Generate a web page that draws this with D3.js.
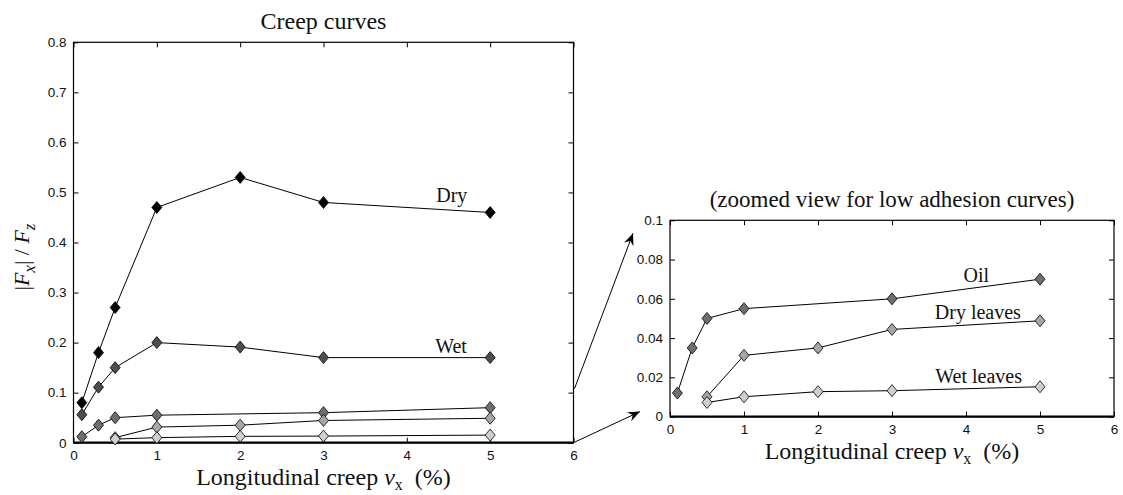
<!DOCTYPE html>
<html>
<head>
<meta charset="utf-8">
<script src="https://cdn.jsdelivr.net/npm/d3@7"></script>
<style>
  body { margin: 0; background: #fff; }
  svg { display: block; }
  .tick text { font-family: "Liberation Sans", Arial, sans-serif; font-size: 13.5px; fill: #111; }
  .serif { font-family: "Liberation Serif", "Times New Roman", serif; fill: #111; }
</style>
</head>
<body>
<div id="viz"></div>
<script>
// series: creep (%) and |Fx|/Fz
const dryX = [0.1, 0.3, 0.5, 1, 2, 3, 5];
const dryY = [0.08, 0.18, 0.27, 0.47, 0.53, 0.48, 0.46];
const wetX = [0.1, 0.3, 0.5, 1, 2, 3, 5];
const wetY = [0.056, 0.111, 0.15, 0.2, 0.191, 0.17, 0.17];
const oilX = [0.1, 0.3, 0.5, 1, 3, 5];
const oilY = [0.012, 0.035, 0.05, 0.055, 0.06, 0.07];
const dryLeavesX = [0.5, 1, 2, 3, 5];
const dryLeavesY = [0.0101, 0.0312, 0.035, 0.0444, 0.0488];
const wetLeavesX = [0.5, 1, 2, 3, 5];
const wetLeavesY = [0.0072, 0.0101, 0.0127, 0.0132, 0.0152];

const seriesNames = ['Dry', 'Wet', 'Oil', 'Dry leaves', 'Wet leaves'];
const xTicksVals = [0, 1, 2, 3, 4, 5, 6];
const leftYTicks = [0, 0.1, 0.2, 0.3, 0.4, 0.5, 0.6, 0.7, 0.8];
const rightYTicks = [0, 0.02, 0.04, 0.06, 0.08, 0.1];

const fills = { 'Dry': '#000', 'Wet': '#4d4d4d', 'Oil': '#6e6e6e', 'Dry leaves': '#a6a6a6', 'Wet leaves': '#cfcfcf' };

const series = [
  { name: 'Dry', x: dryX, y: dryY },
  { name: 'Wet', x: wetX, y: wetY },
  { name: 'Oil', x: oilX, y: oilY },
  { name: 'Dry leaves', x: dryLeavesX, y: dryLeavesY },
  { name: 'Wet leaves', x: wetLeavesX, y: wetLeavesY }
].map(s => ({ name: s.name, pts: s.x.map((v, i) => [v, s.y[i]]) }));

const W = 1123, H = 495;
const svg = d3.select('#viz').append('svg').attr('width', W).attr('height', H);

// arrow head marker
svg.append('defs').append('marker')
   .attr('id', 'head')
   .attr('viewBox', '-12 -6 14 12')
   .attr('markerWidth', 14).attr('markerHeight', 12)
   .attr('markerUnits', 'userSpaceOnUse')
   .attr('refX', 0).attr('refY', 0)
   .attr('orient', 'auto')
   .append('path').attr('d', 'M0,0 L-12,-5 L-8,0 L-12,5 Z').attr('fill', '#000');

function panel(box, yMax, yTicks, yFmt, list, labels, title, titleSize) {
  const x = d3.scaleLinear().domain([0, 6]).range([box.left, box.right]);
  const y = d3.scaleLinear().domain([0, yMax]).range([box.bottom, box.top]);
  const g = svg.append('g');

  // axes, matlab style: ticks inside on all four sides
  g.append('g').attr('transform', `translate(0,${box.bottom})`)
   .call(d3.axisBottom(x).tickValues(xTicksVals).tickSize(-5).tickPadding(8).tickFormat(d3.format('d')))
   .call(a => a.select('.domain').remove());
  g.append('g').attr('transform', `translate(0,${box.top})`)
   .call(d3.axisTop(x).tickValues(xTicksVals).tickSize(-5).tickFormat(''))
   .call(a => a.select('.domain').remove());
  g.append('g').attr('transform', `translate(${box.left},0)`)
   .call(d3.axisLeft(y).tickValues(yTicks).tickSize(-5).tickPadding(7).tickFormat(yFmt))
   .call(a => a.select('.domain').remove());
  g.append('g').attr('transform', `translate(${box.right},0)`)
   .call(d3.axisRight(y).tickValues(yTicks).tickSize(-5).tickFormat(''))
   .call(a => a.select('.domain').remove());
  g.selectAll('.tick line').attr('stroke', '#000');

  g.append('rect')
   .attr('x', box.left).attr('y', box.top)
   .attr('width', box.right - box.left).attr('height', box.bottom - box.top)
   .attr('fill', 'none').attr('stroke', '#000').attr('stroke-width', 1.2);
  g.append('line')
   .attr('x1', box.left).attr('x2', box.right)
   .attr('y1', box.bottom).attr('y2', box.bottom)
   .attr('stroke', '#000').attr('stroke-width', 2.2);

  const line = d3.line().x(d => x(d[0])).y(d => y(d[1]));
  const sg = g.selectAll('.series').data(list).enter().append('g');
  sg.append('path').attr('d', d => line(d.pts))
    .attr('fill', 'none').attr('stroke', '#000').attr('stroke-width', 1);
  sg.selectAll('path.mk').data(d => d.pts.map(p => ({ p, name: d.name })))
    .enter().append('path').classed('mk', true)
    .attr('d', 'M0,-6 L5,0 L0,6 L-5,0 Z')
    .attr('transform', d => `translate(${x(d.p[0])},${y(d.p[1])})`)
    .attr('fill', d => fills[d.name])
    .attr('stroke', '#000').attr('stroke-width', 0.8);

  labels.forEach(l => {
    g.append('text').attr('class', 'serif')
     .attr('x', x(l.x)).attr('y', y(l.y))
     .attr('text-anchor', 'middle').attr('font-size', 20)
     .text(l.text);
  });

  g.append('text').attr('class', 'serif')
   .attr('x', (box.left + box.right) / 2).attr('y', box.top - 13)
   .attr('text-anchor', 'middle').attr('font-size', titleSize)
   .text(title);

  const xl = g.append('text').attr('class', 'serif')
   .attr('x', (box.left + box.right) / 2).attr('y', box.bottom + 42)
   .attr('text-anchor', 'middle').attr('font-size', 24);
  xl.append('tspan').text('Longitudinal creep ');
  xl.append('tspan').attr('font-style', 'italic').text('ν');
  xl.append('tspan').attr('dy', 5).attr('font-size', 16).text('x');
  xl.append('tspan').attr('dy', -5).text('\u00a0 (%)');

  return { x, y };
}

const L = panel({ left: 73.5, right: 573.5, top: 42.3, bottom: 442.7 }, 0.8, leftYTicks,
  d => d === 0 ? '0' : d3.format('.1f')(d), series,
  [{ text: 'Dry', x: 4.54, y: 0.481 }, { text: 'Wet', x: 4.53, y: 0.179 }],
  'Creep curves', 24);

const R = panel({ left: 670, right: 1114, top: 220.3, bottom: 416.6 }, 0.1, rightYTicks,
  d => d === 0 ? '0' : (d === 0.1 ? '0.1' : d3.format('.2f')(d)), series.slice(2),
  [{ text: 'Oil', x: 4.14, y: 0.0687 }, { text: 'Dry leaves', x: 4.16, y: 0.0497 }, { text: 'Wet leaves', x: 4.17, y: 0.0171 }],
  '(zoomed view for low adhesion curves)', 23);

// y label of left panel
const yl = svg.append('text').attr('class', 'serif')
  .attr('transform', 'translate(29,257) rotate(-90)')
  .attr('text-anchor', 'middle').attr('font-size', 22);
yl.append('tspan').text('|');
yl.append('tspan').attr('font-style', 'italic').text('F');
yl.append('tspan').attr('dy', 6).attr('font-size', 17).attr('font-style', 'italic').text('x');
yl.append('tspan').attr('dy', -6).text('| / ');
yl.append('tspan').attr('font-style', 'italic').text('F');
yl.append('tspan').attr('dy', 6).attr('font-size', 17).attr('font-style', 'italic').text('z');

// zoom arrows
svg.append('line')
  .attr('x1', L.x(6) + 1).attr('y1', L.y(0.1) - 4)
  .attr('x2', R.x(0) - 37).attr('y2', R.y(0.1) + 13)
  .attr('stroke', '#000').attr('stroke-width', 1).attr('marker-end', 'url(#head)');
svg.append('line')
  .attr('x1', L.x(6)).attr('y1', L.y(0))
  .attr('x2', R.x(0) - 30).attr('y2', R.y(0) - 5)
  .attr('stroke', '#000').attr('stroke-width', 1).attr('marker-end', 'url(#head)');
</script>
</body>
</html>
